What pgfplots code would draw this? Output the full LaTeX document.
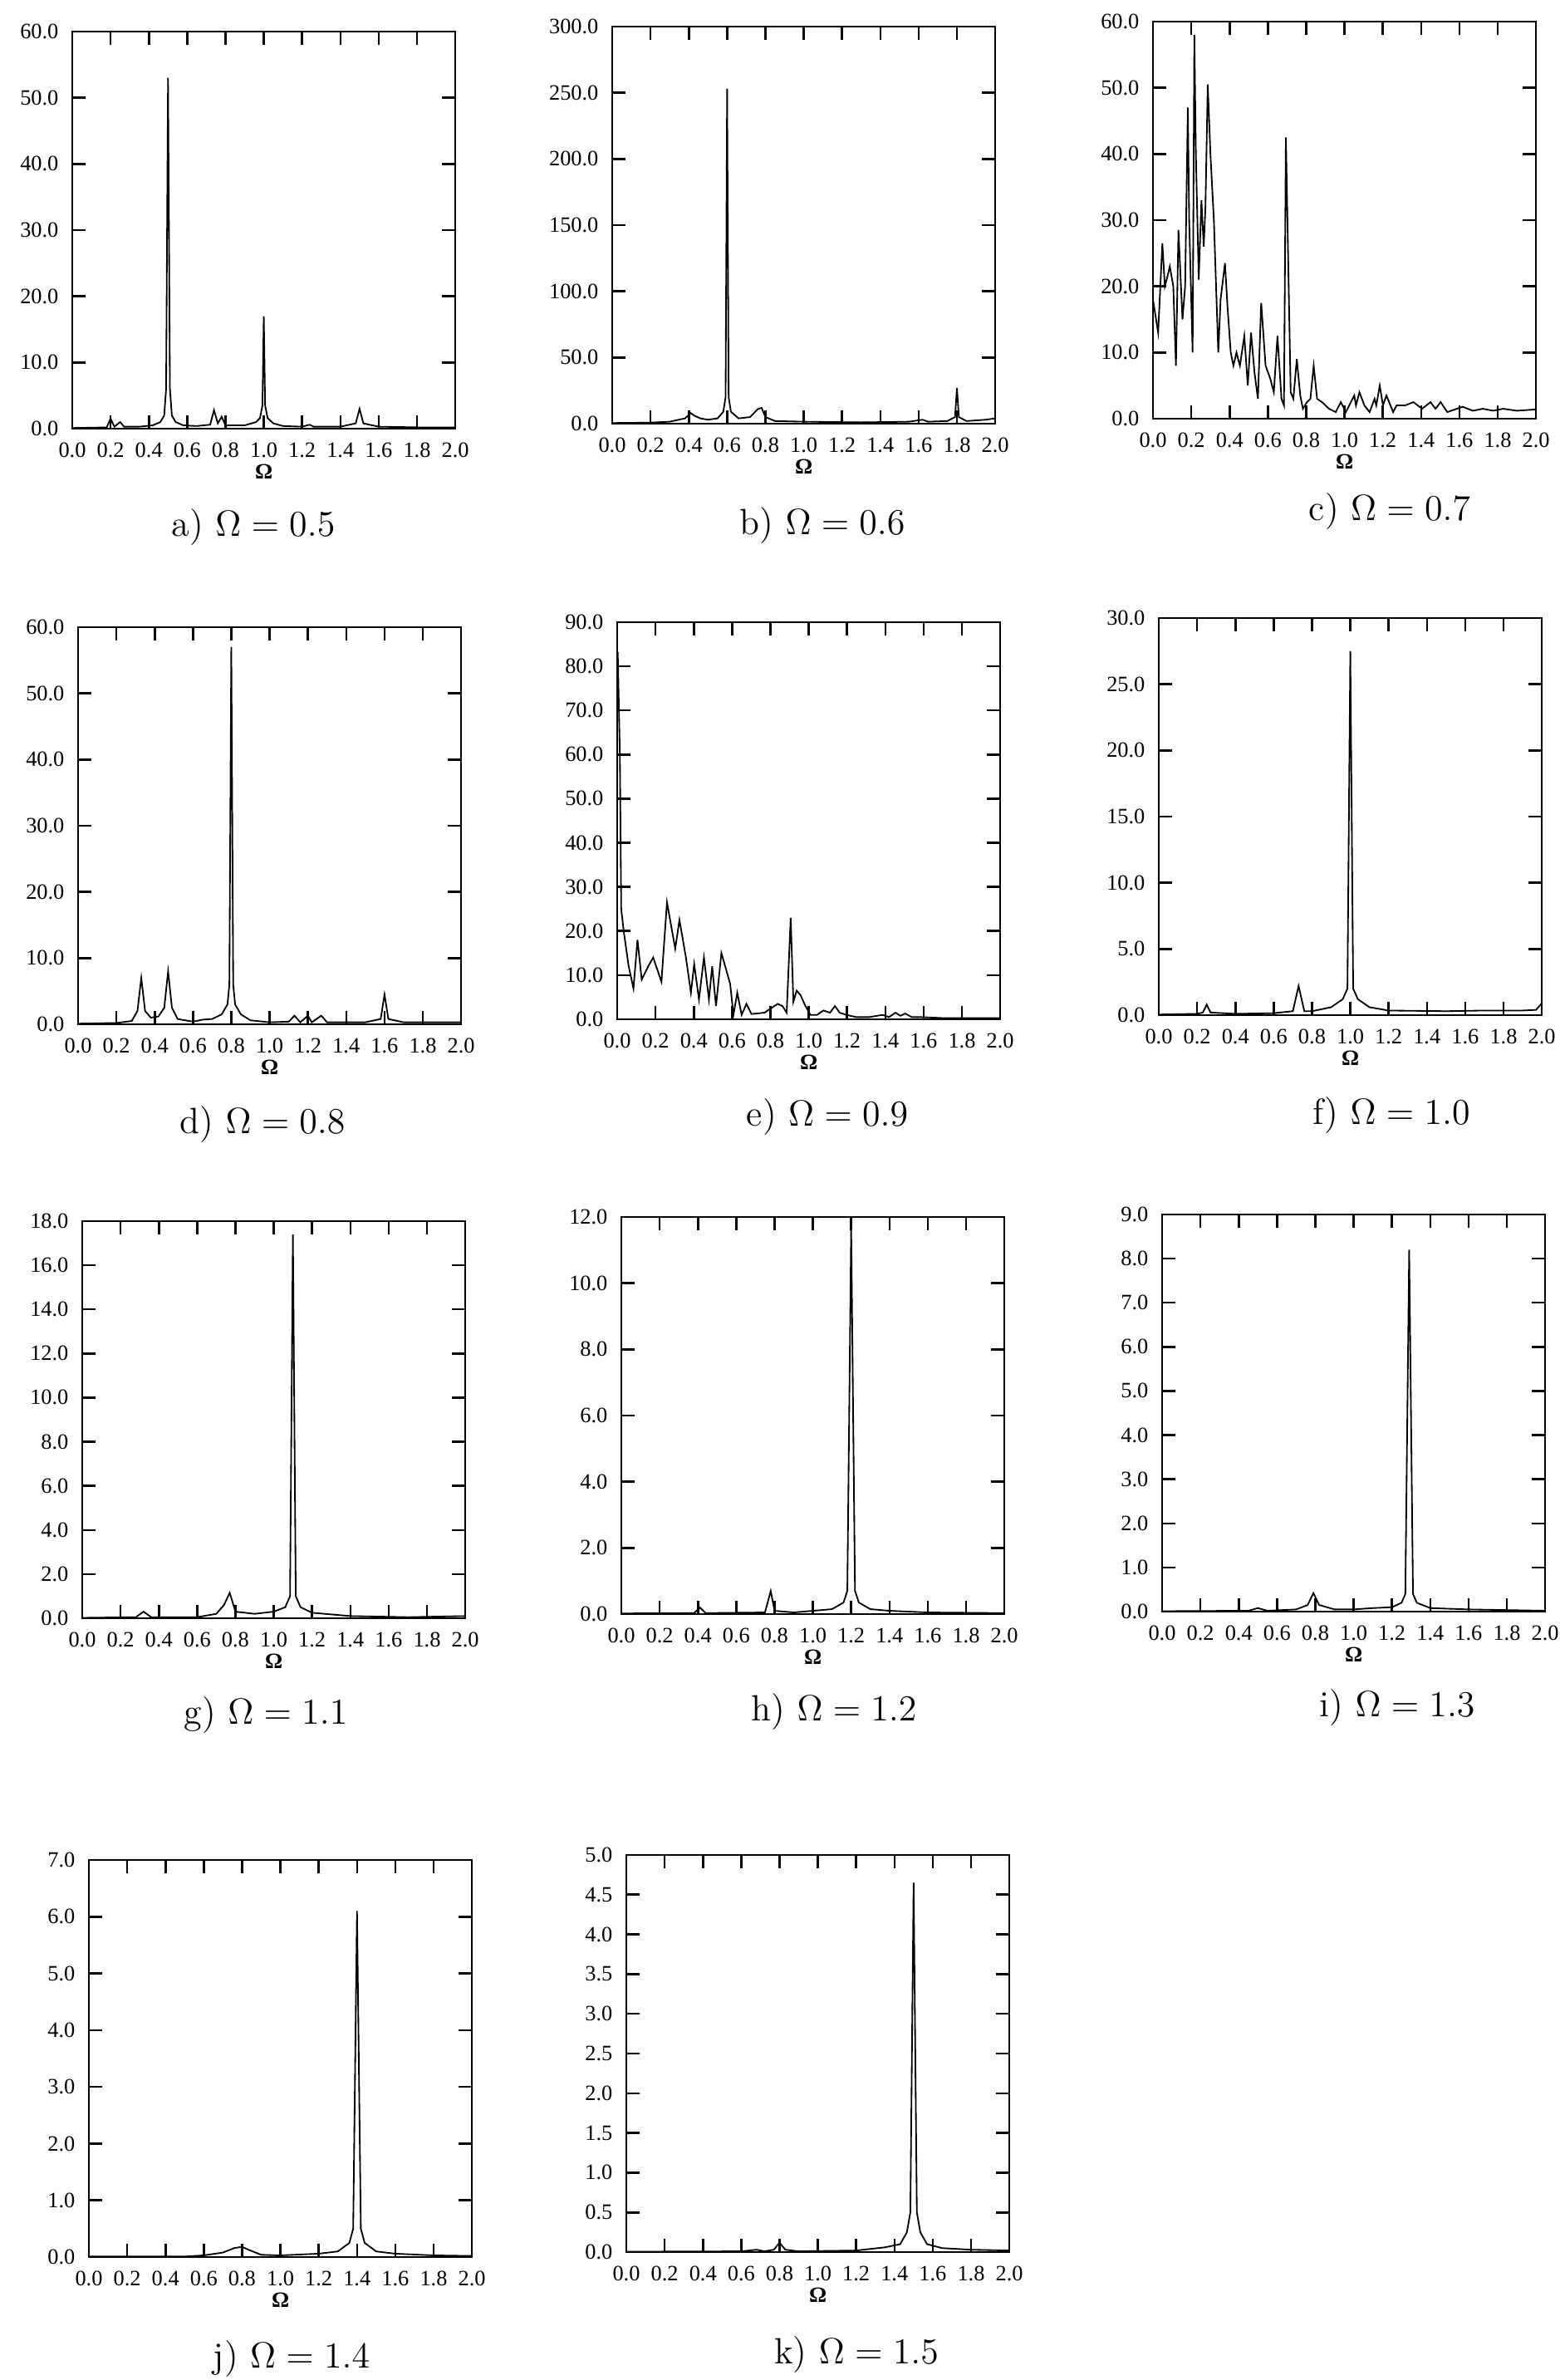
\documentclass[border=0pt]{standalone}
\usepackage{pgfplots}
\pgfplotsset{compat=1.18}
\usepackage{fontspec}
\newfontfamily\tickfont{Liberation Serif}

% one scanned pixel of the page
\def\pxunit{0.0096cm}

\pgfplotsset{
  spec/.style={
    scale only axis, width=4.4256cm, height=4.5888cm,
    xmin=0, xmax=2, ymin=0,
    xtick={0,0.2,0.4,0.6,0.8,1.0,1.2,1.4,1.6,1.8,2.0},
    tick align=inside, tick pos=both,
    xticklabel pos=lower, yticklabel pos=left,
    major tick length=0.155cm, minor tick num=0,
    axis line style={line width=0.7pt},
    every tick/.style={black, line width=0.7pt},
    scaled ticks=false,
    /pgf/number format/assume math mode=true,
    /pgf/number format/fixed, /pgf/number format/fixed zerofill,
    /pgf/number format/precision=1,
    ticklabel style={font=\tickfont\fontsize{7.2}{8}\selectfont},
    xticklabel style={yshift=-1.2pt},
    yticklabel style={xshift=-1pt},
    xlabel={\textbf{Ω}},
    xlabel style={font=\tickfont\fontsize{7.2}{8}\selectfont,
      at={(axis description cs:0.5,-0.109)}, anchor=center},
    every axis plot post/.append style={black, line width=0.5pt, mark=none},
  },
}
\tikzset{subcap/.style={font=\fontsize{12}{14}\selectfont}}

\begin{document}
\begin{tikzpicture}
\path[use as bounding box] (0,0) rectangle ({1878*\pxunit},{-2865*\pxunit});

% a) Omega = 0.5
\begin{axis}[spec, at={({87*\pxunit},{-516*\pxunit})}, anchor=south west, ymax=60, ytick distance=10]
\addplot coordinates {(0,0.1)(0.1,0.15)(0.18,0.2)(0.2,1.5)(0.22,0.3)(0.25,1.0)(0.27,0.3)(0.35,0.3)
(0.42,0.5)(0.46,1.0)(0.48,2)(0.49,6)(0.5,53)(0.51,6)(0.52,2)(0.54,1.0)(0.58,0.5)(0.65,0.4)
(0.72,0.6)(0.74,2.8)(0.76,0.8)(0.78,1.8)(0.8,0.5)(0.9,0.5)(0.96,1.0)(0.98,1.6)(0.993,3.5)(1.0,17)
(1.007,3.5)(1.02,1.6)(1.05,0.8)(1.1,0.4)(1.2,0.3)(1.24,0.6)(1.26,0.3)(1.4,0.3)(1.48,0.8)(1.5,3)
(1.52,0.8)(1.6,0.3)(1.8,0.2)(2.0,0.2)};
\end{axis}
\node[subcap] at ({305*\pxunit},{-635*\pxunit}) {a) $\Omega = 0.5$};

% b) Omega = 0.6
\begin{axis}[spec, at={({737*\pxunit},{-510*\pxunit})}, anchor=south west, ymax=300, ytick distance=50]
\addplot coordinates {(0,0.5)(0.2,0.8)(0.3,1.5)(0.38,4)(0.41,8)(0.43,6)(0.46,4)(0.5,3)(0.55,4)
(0.58,9)(0.592,20)(0.6,253)(0.608,20)(0.62,9)(0.66,4)(0.72,5)(0.76,11)(0.78,12)(0.8,5)(0.85,2)
(1.0,1.5)(1.3,1.0)(1.55,1.5)(1.62,3)(1.65,1.5)(1.75,2)(1.79,5)(1.8,27)(1.81,5)(1.85,2)(1.95,3)(2.0,4)};
\end{axis}
\node[subcap] at ({990*\pxunit},{-633*\pxunit}) {b) $\Omega = 0.6$};

% c) Omega = 0.7
\begin{axis}[spec, at={({1388*\pxunit},{-504*\pxunit})}, anchor=south west, ymax=60, ytick distance=10]
\addplot coordinates {(0,18)(0.027,13)(0.049,26.5)(0.062,20)(0.080,22)(0.088,23)(0.106,20)
(0.120,8)(0.133,28.5)(0.154,15)(0.168,20)(0.182,47)(0.189,30)(0.207,10)(0.216,58)(0.224,40)
(0.239,21)(0.253,33)(0.265,26)(0.274,32)(0.286,50.5)(0.300,40)(0.318,30)(0.341,10)(0.353,18)
(0.376,23.5)(0.389,17)(0.406,10)(0.420,8)(0.436,10)(0.454,8)(0.477,12.5)(0.495,5)(0.512,13)
(0.530,7)(0.548,3)(0.565,17.5)(0.588,8)(0.613,6)(0.631,4)(0.650,12.5)(0.671,3)(0.684,2)
(0.694,42.5)(0.719,4)(0.733,3)(0.751,9)(0.769,3.5)(0.783,1.5)(0.804,2.5)(0.822,3)(0.839,8)
(0.857,3)(0.883,2.5)(0.919,1.5)(0.954,1)(0.981,2.5)(1.007,1)(1.051,3.5)(1.060,2)(1.078,4)
(1.104,2)(1.131,1)(1.157,3)(1.166,2)(1.184,5)(1.201,2)(1.219,3.5)(1.254,1)(1.272,2)(1.316,2)
(1.360,2.5)(1.405,1.5)(1.449,2.5)(1.475,1.5)(1.502,2.5)(1.537,1)(1.617,1.8)(1.670,1.2)
(1.723,1.5)(1.776,1.2)(1.829,1.5)(1.899,1.2)(2.0,1.4)};
\end{axis}
\node[subcap] at ({1673*\pxunit},{-616*\pxunit}) {c) $\Omega = 0.7$};

% d) Omega = 0.8
\begin{axis}[spec, at={({94*\pxunit},{-1233*\pxunit})}, anchor=south west, ymax=60, ytick distance=10]
\addplot coordinates {(0,0.1)(0.2,0.2)(0.28,0.5)(0.31,2)(0.33,7)(0.35,2)(0.38,1.0)(0.42,1.2)
(0.45,2.5)(0.47,8)(0.49,2.5)(0.52,0.8)(0.6,0.4)(0.65,0.7)(0.7,0.8)(0.75,1.5)(0.78,3)(0.79,6)
(0.8,57)(0.81,6)(0.82,3)(0.85,1.5)(0.9,0.6)(1.0,0.3)(1.1,0.4)(1.13,1.3)(1.16,0.3)(1.2,1.3)
(1.22,0.3)(1.27,1.3)(1.3,0.3)(1.5,0.3)(1.58,0.8)(1.6,4.5)(1.62,0.8)(1.7,0.3)(2.0,0.3)};
\end{axis}
\node[subcap] at ({316*\pxunit},{-1354*\pxunit}) {d) $\Omega = 0.8$};

% e) Omega = 0.9
\begin{axis}[spec, at={({743*\pxunit},{-1227*\pxunit})}, anchor=south west, ymax=90, ytick distance=10]
\addplot coordinates {(0,83)(0.003,83)(0.014,60)(0.021,25)(0.034,20)(0.060,12)(0.085,7)
(0.106,18)(0.128,9)(0.162,12)(0.188,14)(0.231,8.5)(0.260,26.5)(0.303,16)(0.325,22.5)(0.359,14)
(0.385,6)(0.402,12.5)(0.427,4.5)(0.453,14)(0.479,4.5)(0.496,12)(0.516,3)(0.544,15)(0.564,12)
(0.590,8)(0.607,1)(0.627,6)(0.650,1)(0.675,3.5)(0.701,1.2)(0.769,1.5)(0.838,3.5)(0.863,3)
(0.885,1.5)(0.906,23)(0.920,4)(0.937,6.5)(0.957,5.5)(0.983,3)(1.009,1)(1.043,1)(1.077,2)
(1.111,1.5)(1.137,3)(1.162,1.5)(1.197,1)(1.248,0.5)(1.316,0.5)(1.385,1)(1.419,0.5)(1.453,1.5)
(1.479,0.8)(1.504,1.3)(1.538,0.5)(1.590,0.5)(1.692,0.3)(2.0,0.3)};
\end{axis}
\node[subcap] at ({996*\pxunit},{-1345*\pxunit}) {e) $\Omega = 0.9$};

% f) Omega = 1.0
\begin{axis}[spec, at={({1395*\pxunit},{-1222*\pxunit})}, anchor=south west, ymax=30, ytick distance=5]
\addplot coordinates {(0,0.05)(0.2,0.1)(0.23,0.2)(0.25,0.8)(0.27,0.2)(0.4,0.1)(0.6,0.15)(0.7,0.3)
(0.73,2.2)(0.76,0.3)(0.8,0.3)(0.9,0.6)(0.96,1.2)(0.985,2.0)(1.0,27.5)(1.015,2.0)(1.04,1.2)
(1.1,0.6)(1.2,0.35)(1.5,0.3)(1.7,0.35)(1.9,0.35)(1.97,0.4)(2.0,0.9)};
\end{axis}
\node[subcap] at ({1675*\pxunit},{-1343*\pxunit}) {f) $\Omega = 1.0$};

% g) Omega = 1.1
\begin{axis}[spec, at={({99*\pxunit},{-1948*\pxunit})}, anchor=south west, ymax=18, ytick distance=2]
\addplot coordinates {(0,0.02)(0.28,0.05)(0.32,0.3)(0.36,0.05)(0.6,0.05)(0.7,0.2)(0.74,0.6)
(0.77,1.15)(0.8,0.3)(0.9,0.2)(1.0,0.3)(1.06,0.5)(1.085,1.0)(1.1,17.4)(1.115,1.0)(1.14,0.5)
(1.2,0.25)(1.4,0.1)(1.7,0.05)(2.0,0.1)};
\end{axis}
\node[subcap] at ({320*\pxunit},{-2065*\pxunit}) {g) $\Omega = 1.1$};

% h) Omega = 1.2
\begin{axis}[spec, at={({748*\pxunit},{-1943*\pxunit})}, anchor=south west, ymax=12, ytick distance=2]
\addplot coordinates {(0,0.02)(0.38,0.03)(0.41,0.2)(0.44,0.03)(0.75,0.05)(0.78,0.7)(0.8,0.1)
(0.9,0.05)(1.0,0.1)(1.1,0.15)(1.16,0.35)(1.18,0.7)(1.2,11.7)(1.22,0.7)(1.24,0.35)(1.3,0.15)
(1.4,0.1)(1.6,0.05)(2.0,0.03)};
\end{axis}
\node[subcap] at ({1004*\pxunit},{-2061*\pxunit}) {h) $\Omega = 1.2$};

% i) Omega = 1.3
\begin{axis}[spec, at={({1399*\pxunit},{-1940*\pxunit})}, anchor=south west, ymax=9, ytick distance=1]
\addplot coordinates {(0,0.01)(0.45,0.02)(0.5,0.08)(0.55,0.02)(0.7,0.05)(0.76,0.15)(0.79,0.42)
(0.82,0.15)(0.9,0.05)(1.0,0.05)(1.1,0.08)(1.2,0.1)(1.25,0.2)(1.27,0.4)(1.29,8.2)(1.31,0.4)
(1.33,0.2)(1.4,0.08)(1.6,0.05)(2.0,0.02)};
\end{axis}
\node[subcap] at ({1682*\pxunit},{-2056*\pxunit}) {i) $\Omega = 1.3$};

% j) Omega = 1.4
\begin{axis}[spec, at={({107*\pxunit},{-2717*\pxunit})}, anchor=south west, ymax=7, ytick distance=1]
\addplot coordinates {(0,0.01)(0.5,0.01)(0.6,0.03)(0.7,0.08)(0.76,0.16)(0.8,0.18)(0.84,0.12)
(0.9,0.04)(1.0,0.03)(1.2,0.06)(1.3,0.1)(1.36,0.25)(1.38,0.5)(1.4,6.1)(1.42,0.5)(1.44,0.25)
(1.5,0.1)(1.6,0.06)(1.8,0.03)(2.0,0.02)};
\end{axis}
\node[subcap] at ({351*\pxunit},{-2839*\pxunit}) {j) $\Omega = 1.4$};

% k) Omega = 1.5
\begin{axis}[spec, at={({754*\pxunit},{-2711*\pxunit})}, anchor=south west, ymax=5, ytick distance=0.5]
\addplot coordinates {(0,0.005)(0.6,0.01)(0.68,0.03)(0.72,0.01)(0.77,0.03)(0.8,0.12)(0.83,0.03)
(0.9,0.01)(1.2,0.02)(1.35,0.06)(1.43,0.1)(1.465,0.25)(1.483,0.5)(1.5,4.65)(1.517,0.5)(1.535,0.25)
(1.57,0.1)(1.65,0.05)(1.8,0.03)(2.0,0.02)};
\end{axis}
\node[subcap] at ({1031*\pxunit},{-2834*\pxunit}) {k) $\Omega = 1.5$};

\end{tikzpicture}
\end{document}
